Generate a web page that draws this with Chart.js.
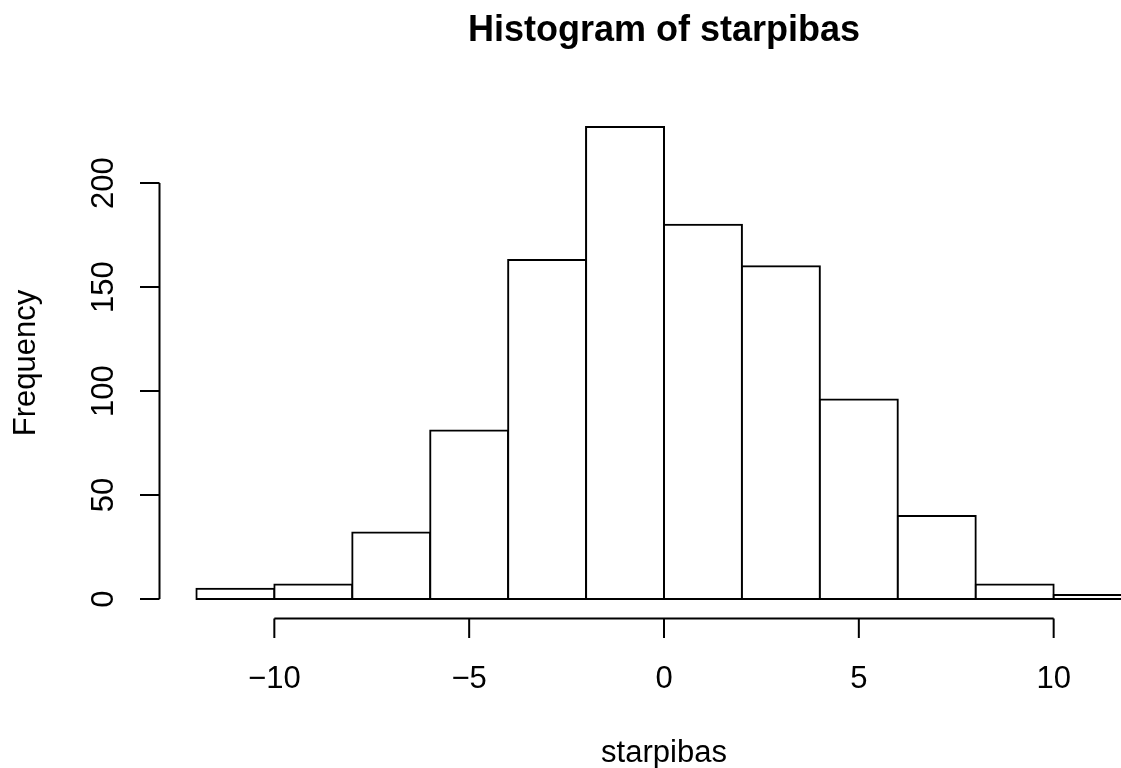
<!DOCTYPE html>
<html>
<head>
<meta charset="utf-8">
<title>Histogram of starpibas</title>
<script src="https://cdn.jsdelivr.net/npm/chart.js@4"></script>
<style>
    html, body { margin: 0; padding: 0; background: #fff; overflow: hidden; }
    #wrap { width: 1328px; height: 768px; }
</style>
</head>
<body>
<div id="wrap"><canvas id="hist" width="1328" height="768"></canvas></div>
<script>
// bin edges and counts
var binLeft = [-12, -10, -8, -6, -4, -2, 0, 2, 4, 6, 8, 10];
var binRight = [-10, -8, -6, -4, -2, 0, 2, 4, 6, 8, 10, 12];
var counts = [5, 7, 32, 81, 163, 227, 180, 160, 96, 40, 7, 2];
var xTicks = [-10, -5, 0, 5, 10];
var yTicks = [0, 50, 100, 150, 200];
var titleText = "Histogram of starpibas";
var xTitle = "starpibas";
var yTitle = "Frequency";

var FONT = "'Liberation Sans', Arial, Helvetica, sans-serif";

function fmt(v) {
    return v < 0 ? "\u2212" + Math.abs(v) : String(v);
}

document.addEventListener("DOMContentLoaded", function() {
    var ctx = document.getElementById("hist");

    var points = [];
    for (var i = 0; i < counts.length; i++) {
        points.push({ x: (binLeft[i] + binRight[i]) / 2, y: counts[i] });
    }

    // R style axes, title and labels
    var rAxes = {
        id: "rAxes",
        afterDraw: function(chart) {
            var c = chart.ctx;
            var xs = chart.scales.x, ys = chart.scales.y;
            var area = chart.chartArea;
            var midX = (area.left + area.right) / 2;
            var midY = (area.top + area.bottom) / 2;
            c.save();
            c.strokeStyle = "#000";
            c.fillStyle = "#000";
            c.lineWidth = 2;
            c.lineCap = "butt";

            // x axis
            var ay = area.bottom + 0.5;
            c.beginPath();
            c.moveTo(xs.getPixelForValue(xTicks[0]), ay);
            c.lineTo(xs.getPixelForValue(xTicks[xTicks.length - 1]), ay);
            xTicks.forEach(function(t) {
                var px = xs.getPixelForValue(t);
                c.moveTo(px, ay);
                c.lineTo(px, ay + 19.5);
            });
            c.stroke();

            c.font = "31px " + FONT;
            c.textAlign = "center";
            c.textBaseline = "alphabetic";
            xTicks.forEach(function(t) {
                c.fillText(fmt(t), xs.getPixelForValue(t), 688);
            });

            // y axis
            var ax = area.left + 0.5;
            c.beginPath();
            c.moveTo(ax, ys.getPixelForValue(yTicks[0]));
            c.lineTo(ax, ys.getPixelForValue(yTicks[yTicks.length - 1]));
            yTicks.forEach(function(t) {
                var py = ys.getPixelForValue(t);
                c.moveTo(ax, py);
                c.lineTo(ax - 19.5, py);
            });
            c.stroke();

            yTicks.forEach(function(t) {
                c.save();
                c.translate(113, ys.getPixelForValue(t));
                c.rotate(-Math.PI / 2);
                c.fillText(fmt(t), 0, 0);
                c.restore();
            });

            // axis titles
            c.fillText(xTitle, midX, 762);
            c.save();
            c.translate(35, midY);
            c.rotate(-Math.PI / 2);
            c.fillText(yTitle, 0, 0);
            c.restore();

            // main title
            c.font = "bold 36px " + FONT;
            c.fillText(titleText, midX, 41);
            c.restore();
        }
    };

    new Chart(ctx, {
        type: "bar",
        data: {
            datasets: [{
                data: points,
                backgroundColor: "#ffffff",
                borderColor: "#000000",
                borderWidth: 2,
                borderSkipped: false,
                inflateAmount: 1,
                barPercentage: 1,
                categoryPercentage: 1
            }]
        },
        options: {
            responsive: false,
            animation: false,
            devicePixelRatio: 1,
            layout: {
                padding: { left: 159, right: 159, top: 108, bottom: 150 }
            },
            scales: {
                x: { type: "linear", display: false, min: -12.96, max: 12.96, offset: false },
                y: { type: "linear", display: false, min: -9.08, max: 236.08 }
            },
            plugins: {
                legend: { display: false },
                tooltip: { enabled: false },
                title: { display: false }
            }
        },
        plugins: [rAxes]
    });
});
</script>
</body>
</html>
